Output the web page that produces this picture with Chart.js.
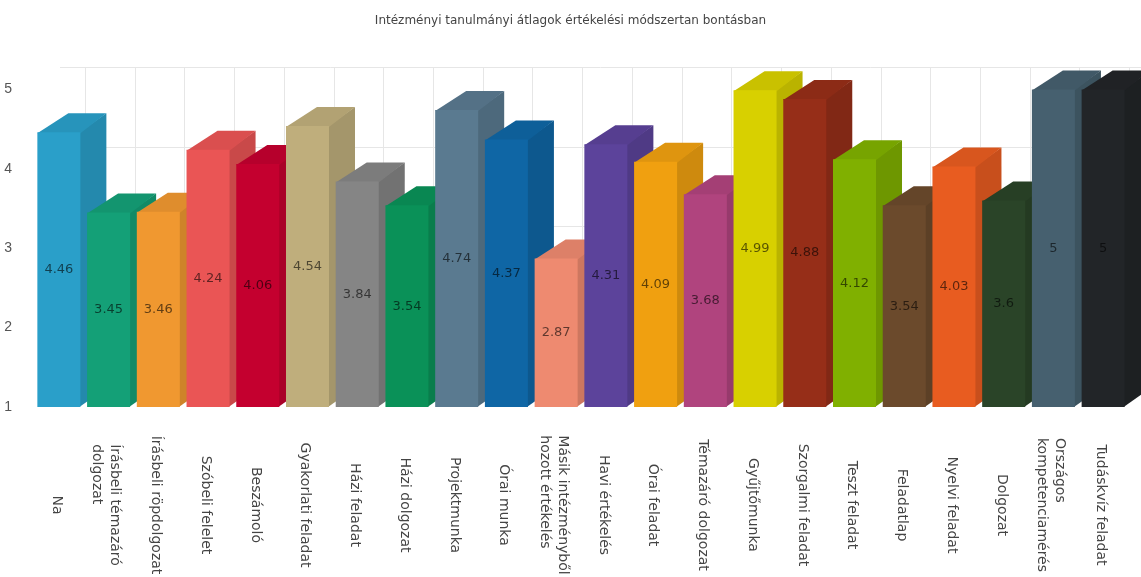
<!DOCTYPE html>
<html>
<head>
<meta charset="utf-8">
<style>
  html, body { margin: 0; padding: 0; background: #fff; overflow: hidden; }
  #wrap { width: 1141px; height: 577px; }
  canvas { filter: blur(0.6px); }
</style>
<script src="https://cdn.jsdelivr.net/npm/chart.js@4"></script>
</head>
<body>
<div id="wrap"><canvas id="avgChart"></canvas></div>
<script>
const chartTitle = "Intézményi tanulmányi átlagok értékelési módszertan bontásban";
const categories = [
  ["Na"], ["Írásbeli témazáró", "dolgozat"], ["Írásbeli röpdolgozat"], ["Szóbeli felelet"],
  ["Beszámoló"], ["Gyakorlati feladat"], ["Házi feladat"], ["Házi dolgozat"],
  ["Projektmunka"], ["Órai munka"], ["Másik intézményből", "hozott értékelés"], ["Havi értékelés"],
  ["Órai feladat"], ["Témazáró dolgozat"], ["Gyűjtőmunka"], ["Szorgalmi feladat"],
  ["Teszt feladat"], ["Feladatlap"], ["Nyelvi feladat"], ["Dolgozat"],
  ["Országos", "kompetenciamérés"], ["Tudáskvíz feladat"]
];
const averages = [4.46, 3.45, 3.46, 4.24, 4.06, 4.54, 3.84, 3.54, 4.74, 4.37, 2.87, 4.31,
                  4.09, 3.68, 4.99, 4.88, 4.12, 3.54, 4.03, 3.6, 5, 5];
const barColors = ["#2a9fc9", "#14a077", "#f09830", "#ea5555", "#c4002f", "#bfae7c", "#858585", "#0a9158",
                   "#5a7a90", "#0f66a5", "#ee8a70", "#5c439b", "#f0a010", "#b0447e", "#d8d000", "#962e18",
                   "#80b000", "#6b4a2c", "#e85c20", "#2a4428", "#46606f", "#222528"];
const yTicks = [1, 2, 3, 4, 5];

// depth of the fake 3d box
const depthX = 26, depthY = 19, gridDepthY = 22;

function shade(hex, k) {
  const n = parseInt(hex.slice(1), 16);
  const c = [n >> 16, (n >> 8) & 255, n & 255].map(v => Math.round(v * k));
  return "rgb(" + c.join(",") + ")";
}

const box3d = {
  id: "box3d",
  beforeDatasetsDraw(chart) {
    const ctx = chart.ctx, y = chart.scales.y, x = chart.scales.x;
    ctx.save();
    // back wall grid
    ctx.strokeStyle = "#e6e6e6";
    ctx.lineWidth = 1;
    yTicks.forEach(t => {
      if (t === 1) return;
      const py = Math.round(y.getPixelForValue(t) - gridDepthY) + 0.5;
      ctx.beginPath();
      ctx.moveTo(x.left + depthX, py);
      ctx.lineTo(chart.width, py);
      ctx.stroke();
    });
    categories.forEach((c, i) => {
      const px = Math.round(x.getPixelForValue(i) + depthX) + 0.5;
      ctx.beginPath();
      ctx.moveTo(px, y.getPixelForValue(5) - gridDepthY);
      ctx.lineTo(px, y.bottom - gridDepthY);
      ctx.stroke();
    });
    // sides and tops, left to right so the next bar covers them
    chart.getDatasetMeta(0).data.forEach((bar, i) => {
      const l = bar.x - bar.width / 2, r = bar.x + bar.width / 2;
      ctx.fillStyle = shade(barColors[i], 0.86);
      ctx.beginPath();
      ctx.moveTo(r - 1, bar.base);
      ctx.lineTo(r + depthX, bar.base - depthY);
      ctx.lineTo(r + depthX, bar.y - depthY);
      ctx.lineTo(r - 1, bar.y);
      ctx.closePath();
      ctx.fill();
      ctx.fillStyle = shade(barColors[i], 0.93);
      ctx.beginPath();
      ctx.moveTo(l, bar.y + 1);
      ctx.lineTo(l + depthX + 5, bar.y - depthY);
      ctx.lineTo(r + depthX, bar.y - depthY);
      ctx.lineTo(r, bar.y + 1);
      ctx.closePath();
      ctx.fill();
    });
    ctx.restore();
  },
  afterDatasetsDraw(chart) {
    const ctx = chart.ctx;
    ctx.save();
    ctx.font = "13px 'DejaVu Sans'";
    ctx.textAlign = "center";
    ctx.textBaseline = "middle";
    chart.getDatasetMeta(0).data.forEach((bar, i) => {
      ctx.fillStyle = "rgba(0,0,0,0.6)";
      ctx.fillText(String(averages[i]), bar.x, (bar.y + bar.base) / 2);
    });
    ctx.restore();
  },
  afterDraw(chart) {
    const ctx = chart.ctx, x = chart.scales.x;
    ctx.save();
    ctx.font = "12px 'DejaVu Sans'";
    ctx.fillStyle = "#444";
    ctx.textAlign = "center";
    ctx.textBaseline = "middle";
    ctx.fillText(chartTitle, chart.width / 2, 21);
    // rotated category names, they read top to bottom, wrapped lines start at the same height
    ctx.font = "14px 'DejaVu Sans'";
    ctx.textAlign = "left";
    categories.forEach((lines, i) => {
      const longest = Math.max(...lines.map(line => ctx.measureText(line).width));
      ctx.save();
      ctx.translate(x.getPixelForValue(i) - 2.5, 505);
      ctx.rotate(Math.PI / 2);
      lines.forEach((line, j) => {
        ctx.fillText(line, -longest / 2, (j - (lines.length - 1) / 2) * 18);
      });
      ctx.restore();
    });
    ctx.restore();
  }
};

new Chart(document.getElementById("avgChart"), {
  type: "bar",
  data: {
    labels: categories,
    datasets: [{
      data: averages,
      base: 1,
      backgroundColor: barColors,
      barPercentage: 0.865,
      categoryPercentage: 1
    }]
  },
  options: {
    responsive: true,
    maintainAspectRatio: false,
    animation: false,
    layout: { padding: { top: 87, right: 13, bottom: 162, left: 0 } },
    plugins: {
      legend: { display: false },
      tooltip: { enabled: false },
      title: { display: false }
    },
    scales: {
      x: {
        grid: { display: false },
        border: { display: false },
        ticks: { display: false }
      },
      y: {
        min: 1,
        max: 5.03,
        afterFit(scale) { scale.width = 34; },
        grid: { display: false },
        border: { display: false },
        ticks: {
          stepSize: 1,
          includeBounds: false,
          padding: 14,
          color: "#555",
          font: { family: "'Liberation Sans'", size: 14 }
        }
      }
    }
  },
  plugins: [box3d]
});
</script>
</body>
</html>
